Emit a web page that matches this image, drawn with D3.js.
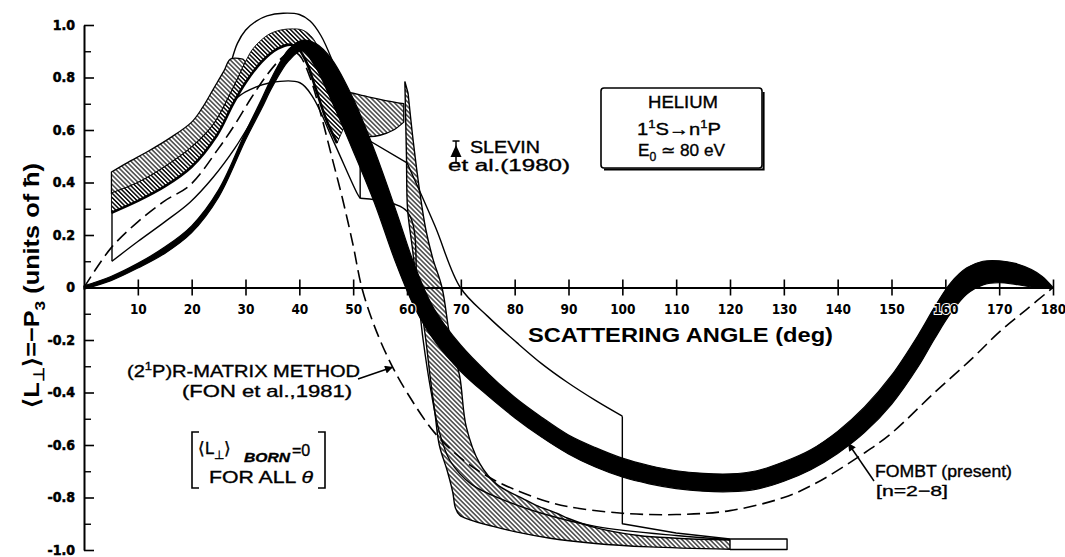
<!DOCTYPE html>
<html>
<head>
<meta charset="utf-8">
<script src="https://cdn.jsdelivr.net/npm/d3@7"></script>
<style>
  body { margin: 0; background: #fff; }
  svg { display: block; }
  text { font-family: "Liberation Sans", Arial, sans-serif; fill: #000; }
</style>
</head>
<body>
<div id="chart"></div>
<script>
// ---- data: [scattering angle (deg), <L_perp> (units of hbar)] ----
const xTicks = [10, 20, 30, 40, 50, 60, 70, 80, 90, 100, 110, 120, 130, 140, 150, 160, 170, 180];
const xTickLabels = ["10", "20", "30", "40", "50", "60", "70", "80", "90", "100", "110", "120", "130", "140", "150", "160", "170", "180"];
const yTicks = [1.0, 0.8, 0.6, 0.4, 0.2, 0, -0.2, -0.4, -0.6, -0.8, -1.0];
const yTickLabels = ["1.0", "0.8", "0.6", "0.4", "0.2", "0", "-0.2", "-0.4", "-0.6", "-0.8", "-1.0"];
const yMinorTicks = [0.9, 0.7, 0.5, 0.3, 0.1, -0.1, -0.3, -0.5, -0.7, -0.9];

// FOMBT (present), n = 2-8 : black band, upper and lower edge
const fombtUpper = [[0, 0.006], [5, 0.042], [10, 0.092], [15, 0.154], [20, 0.235], [25, 0.372], [30, 0.592],
  [33, 0.718], [35, 0.805], [38, 0.907], [40.5, 0.942], [43, 0.93], [46, 0.87], [50, 0.72], [54, 0.52],
  [58, 0.29], [61.5, 0.08], [65, -0.08], [70, -0.22], [75, -0.326], [80, -0.418], [85, -0.494],
  [90, -0.562], [95, -0.61], [100, -0.65], [105, -0.678], [110, -0.698], [115, -0.708], [120, -0.71],
  [125, -0.698], [130, -0.664], [135, -0.618], [140, -0.548], [145, -0.455], [150, -0.335], [155, -0.18],
  [158, -0.075], [161, 0.018], [164, 0.075], [167, 0.1], [170, 0.102], [173, 0.092], [176, 0.068],
  [178, 0.042], [180, 0]];
const fombtLower = [[0, -0.006], [5, 0.026], [10, 0.074], [15, 0.13], [20, 0.209], [25, 0.344], [30, 0.562],
  [33, 0.682], [35, 0.765], [38, 0.863], [40.5, 0.902], [43, 0.84], [46, 0.71], [50, 0.52], [54, 0.32],
  [58, 0.09], [61.5, -0.08], [65, -0.2], [70, -0.32], [75, -0.412], [80, -0.496], [85, -0.57],
  [90, -0.634], [95, -0.684], [100, -0.722], [105, -0.748], [110, -0.766], [115, -0.776], [120, -0.778],
  [125, -0.768], [130, -0.738], [135, -0.694], [140, -0.632], [145, -0.552], [150, -0.445], [155, -0.3],
  [158, -0.195], [161, -0.098], [164, -0.025], [167, 0.01], [170, 0.018], [173, 0.012], [176, 0.002],
  [178, -0.002], [180, 0]];

// (2'P) R-matrix method (Fon et al., 1981) : dashed
const rMatrix = [[0, 0], [5, 0.15], [10, 0.25], [15, 0.33], [19.7, 0.39], [25, 0.53], [28, 0.62], [31, 0.72],
  [34, 0.81], [36.5, 0.87], [38.5, 0.9], [40, 0.885], [42, 0.8], [44, 0.66], [46, 0.5], [48, 0.34], [50, 0.16],
  [51.6, 0], [54, -0.15], [57, -0.29], [60, -0.4], [65, -0.55], [70, -0.65], [75, -0.72], [80, -0.77],
  [86, -0.815], [90, -0.835], [100, -0.86], [110, -0.865], [120, -0.85], [130, -0.8], [136, -0.745],
  [145, -0.63], [150, -0.555], [158, -0.4], [165, -0.27], [170, -0.17], [175, -0.085], [180, 0]];

// hatched bands
const outerBandTop = [[5.1, 0.44], [8, 0.475], [12, 0.52], [16, 0.57], [20, 0.63], [22, 0.685], [24, 0.755],
  [26, 0.825], [27.2, 0.87], [29.5, 0.87]];
const innerBandTop = [[5.1, 0.36], [10, 0.4], [15, 0.46], [20, 0.535], [24, 0.62], [27.7, 0.76], [30, 0.86],
  [31.4, 0.91], [34, 0.96], [36, 0.978], [38.3, 0.985], [40.7, 0.98], [42.5, 0.95], [44, 0.89], [46, 0.78],
  [47.5, 0.7], [48.5, 0.62]];
const innerBandBottom = [[5.1, 0.285], [10, 0.33], [15, 0.385], [20, 0.46], [24.7, 0.58], [27.7, 0.7], [30, 0.78],
  [33, 0.86], [36, 0.91], [38.5, 0.925], [40, 0.905], [41.5, 0.85], [43, 0.76], [45, 0.64], [47, 0.55]];
const lensTop = [[48, 0.75], [50, 0.74], [53, 0.725], [56, 0.712], [59.4, 0.7]];
const lensBottom = [[59.4, 0.63], [57.5, 0.6], [55, 0.58], [53, 0.575], [51, 0.585], [49.5, 0.61], [48, 0.66]];
const spikeLeft = [[59.6, 0.785], [59.9, 0.5], [60.1, 0.3], [61, 0.15], [61.9, 0], [62.8, -0.1], [63.5, -0.2],
  [64.3, -0.34], [65.2, -0.48], [66, -0.6], [67.5, -0.7], [68.5, -0.78], [69, -0.84], [69.8, -0.868],
  [71.7, -0.885], [76, -0.91], [80, -0.93], [86.6, -0.955], [95, -0.975], [105, -0.988], [120, -0.997]];
const spikeRight = [[60.2, 0.74], [61.2, 0.55], [62.4, 0.36], [63.5, 0.22], [64.8, 0.11], [66.5, 0],
  [68, -0.19], [69.8, -0.34], [71, -0.53], [73.5, -0.67], [76.7, -0.75], [81.6, -0.805], [84, -0.83],
  [87.8, -0.86], [90, -0.88], [95, -0.915], [103, -0.945], [110, -0.955], [120, -0.962]];

// thin solid curves
const upperEnvelope = [[27.5, 0.87], [28.5, 0.93], [30, 0.98], [32, 1.015], [34, 1.035], [37, 1.045], [40, 1.04],
  [42, 1.015], [44, 0.96], [46, 0.87], [48, 0.75]];
const lowerStem = [[5.2, 0.285], [5.2, 0.1]];
const lowerCurve = [[5.2, 0.1], [10, 0.175], [15, 0.25], [19.7, 0.325], [24, 0.42], [28, 0.53], [31, 0.63],
  [34, 0.74], [36.5, 0.83], [38.5, 0.89]];
const shoulderCurve = [[27.7, 0.71], [30, 0.745], [34.6, 0.78], [40.1, 0.78], [42.5, 0.725], [46.5, 0.55],
  [50.7, 0.36], [51.3, 0.34]];
const shoulderTail = [[51.3, 0.34], [60, 0.29], [61.9, 0], [63, -0.2], [64.5, -0.4], [66, -0.55], [68, -0.66],
  [72, -0.75], [78, -0.81], [85, -0.86], [95, -0.91], [110, -0.945], [120, -0.96]];
const stepRiser = [[51.3, 0.34], [51.3, 0.58], [60, 0.475]];
const stepCurve = [[60, 0.475], [65.2, 0.234], [69.9, 0], [75, -0.11], [80.4, -0.21], [85, -0.29], [89.7, -0.36],
  [95, -0.43], [100, -0.49]];
const stepDrop = [[100, -0.49], [100, -0.9], [110, -0.935], [120, -0.958], [130.6, -0.958], [130.6, -0.998],
  [120, -0.998]];

// ---- drawing ----
const W = 1065, H = 557;
const x = d3.scaleLinear().domain([0, 180]).range([84, 1053]);
const y = d3.scaleLinear().domain([-1, 1]).range([550, 25]);

const svg = d3.select("#chart").append("svg")
  .attr("width", W).attr("height", H)
  .style("background", "#fff");

const defs = svg.append("defs");
function hatch(id, period, width) {
  const p = defs.append("pattern").attr("id", id)
    .attr("patternUnits", "userSpaceOnUse")
    .attr("width", period).attr("height", period)
    .attr("patternTransform", "rotate(45)");
  p.append("rect").attr("width", period).attr("height", period).attr("fill", "#fff");
  p.append("line").attr("x1", 0).attr("x2", period).attr("y1", period / 2).attr("y2", period / 2)
    .attr("stroke", "#000").attr("stroke-width", width);
}
hatch("hatch", 3.3, 1.1);
hatch("hatchDense", 3.1, 1.45);

defs.append("marker").attr("id", "arrow")
  .attr("viewBox", "0 0 10 10").attr("refX", 10).attr("refY", 5)
  .attr("markerUnits", "userSpaceOnUse").attr("markerWidth", 11).attr("markerHeight", 8)
  .attr("orient", "auto")
  .append("path").attr("d", "M0,0L10,5L0,10z").attr("fill", "#000");

const smooth = d3.line().x(d => x(d[0])).y(d => y(d[1])).curve(d3.curveCatmullRom.alpha(0.5));
const straight = d3.line().x(d => x(d[0])).y(d => y(d[1]));
const band = (a, b) => smooth(a) + smooth(b.slice().reverse()).replace(/^M/, "L") + "Z";

const marks = svg.append("g");

// hatched regions
marks.append("path")
  .attr("d", band(outerBandTop, innerBandTop.filter(d => d[0] <= 30)))
  .attr("fill", "url(#hatch)").attr("stroke", "#000").attr("stroke-width", 1.3);
marks.append("path")
  .attr("d", band(innerBandTop, innerBandBottom))
  .attr("fill", "url(#hatchDense)").attr("stroke", "#000").attr("stroke-width", 0.9);
marks.append("path")
  .attr("d", smooth(innerBandBottom))
  .attr("fill", "none").attr("stroke", "#000").attr("stroke-width", 2.6);
marks.append("path")
  .attr("d", band(lensTop, lensBottom.slice().reverse()))
  .attr("fill", "url(#hatch)").attr("stroke", "#000").attr("stroke-width", 1.3);
marks.append("path")
  .attr("d", band(spikeLeft, spikeRight))
  .attr("fill", "url(#hatch)").attr("stroke", "#000").attr("stroke-width", 1.4);

// thin solid curves
const thin = [
  [upperEnvelope, smooth], [lowerStem, straight], [lowerCurve, smooth], [shoulderCurve, smooth],
  [shoulderTail, smooth], [stepRiser, straight], [stepCurve, smooth], [stepDrop, straight]
];
thin.forEach(([data, gen]) => {
  marks.append("path").attr("d", gen(data))
    .attr("fill", "none").attr("stroke", "#000").attr("stroke-width", 1.4)
    .attr("stroke-linejoin", "round");
});

// R-matrix dashed
marks.append("path").attr("d", smooth(rMatrix))
  .attr("fill", "none").attr("stroke", "#000").attr("stroke-width", 1.6)
  .attr("stroke-dasharray", "13,6");

// FOMBT band
marks.append("path").attr("d", band(fombtUpper, fombtLower))
  .attr("fill", "#000").attr("stroke", "#000").attr("stroke-width", 1.2).attr("stroke-linejoin", "round");

// ---- axes ----
const tickFont = '"Liberation Sans Narrow", "DejaVu Sans Condensed", "Liberation Sans", sans-serif';

const gx = svg.append("g").attr("transform", `translate(0,${y(0)})`)
  .call(d3.axisBottom(x).tickValues(xTicks).tickSize(8).tickSizeOuter(0).tickPadding(9)
    .tickFormat((d, i) => xTickLabels[i]));
gx.select(".domain").attr("stroke-width", 2);
gx.selectAll(".tick line").attr("y1", -8).attr("stroke-width", 1.6);
gx.selectAll(".tick text")
  .style("font-family", tickFont).style("font-weight", "bold").style("font-size", "13.5px")
  .attr("stroke", "#fff").attr("stroke-width", 2).attr("paint-order", "stroke");

const gy = svg.append("g").attr("transform", `translate(${x(0)},0)`)
  .call(d3.axisLeft(y).tickValues(yTicks).tickSize(-10).tickSizeOuter(0).tickPadding(9)
    .tickFormat((d, i) => yTickLabels[i]));
gy.select(".domain").attr("stroke-width", 2);
gy.selectAll(".tick line").attr("stroke-width", 1.6);
gy.selectAll(".tick text")
  .style("font-family", tickFont).style("font-weight", "bold").style("font-size", "14px")
  .attr("stroke", "#000").attr("stroke-width", 0.5);

svg.append("g").attr("transform", `translate(${x(0)},0)`)
  .call(d3.axisLeft(y).tickValues(yMinorTicks).tickSize(-7).tickSizeOuter(0).tickFormat(""))
  .call(g => g.select(".domain").remove())
  .selectAll(".tick line").attr("stroke-width", 1.4);

// axis titles
svg.append("text").attr("x", 528).attr("y", 342)
  .attr("textLength", 305).attr("lengthAdjust", "spacingAndGlyphs")
  .style("font-weight", "bold").style("font-size", "21px")
  .text("SCATTERING ANGLE (deg)");

function rich(sel, parts) {
  parts.forEach(([s, dy, size, style]) => {
    const t = sel.append("tspan").text(s);
    if (dy) t.attr("dy", dy);
    if (size) t.style("font-size", size);
    if (style) t.style("font-style", style);
  });
  return sel;
}

const ylab = svg.append("text")
  .attr("transform", "translate(39,408) rotate(-90)")
  .attr("textLength", 245).attr("lengthAdjust", "spacingAndGlyphs")
  .style("font-weight", "bold").style("font-size", "22px");
rich(ylab, [["\u27E8L"], ["\u22A5", 5, "15px"], ["\u27E9", -5], ["=\u2212P"], ["3", 6, "15px"],
  [" (units of \u0127)", -6]]);

// ---- annotations ----
// Helium box first so its text sits on top
svg.append("rect").attr("x", 601).attr("y", 88).attr("width", 161).attr("height", 80).attr("rx", 3)
  .attr("fill", "#fff").attr("stroke", "#000").attr("stroke-width", 1.6);
svg.append("path").attr("d", "M604,169.6H763.6V92")
  .attr("fill", "none").attr("stroke", "#000").attr("stroke-width", 2);

const ann = svg.append("g").attr("stroke", "#000").attr("stroke-width", 0.35);

ann.append("text").attr("x", 648).attr("y", 108).style("font-size", "17px")
  .attr("textLength", 70).attr("lengthAdjust", "spacingAndGlyphs").text("HELIUM");
const tr = ann.append("text").attr("x", 637).attr("y", 135).style("font-size", "17px")
  .attr("textLength", 84).attr("lengthAdjust", "spacingAndGlyphs");
rich(tr, [["1"], ["1", -7, "11px"], ["S", 7], ["\u2192", 0, "17px"], ["n"], ["1", -7, "11px"], ["P", 7]]);
const e0 = ann.append("text").attr("x", 638).attr("y", 156).style("font-size", "17px")
  .attr("textLength", 87).attr("lengthAdjust", "spacingAndGlyphs");
rich(e0, [["E"], ["0", 5, "12px"], [" \u2243 80 eV", -5]]);

const rm1 = ann.append("text").attr("x", 127).attr("y", 377).style("font-size", "17px")
  .attr("textLength", 233).attr("lengthAdjust", "spacingAndGlyphs");
rich(rm1, [["(2"], ["1", -7, "11px"], ["P)R-MATRIX METHOD", 7]]);
ann.append("text").attr("x", 182).attr("y", 397).style("font-size", "17px")
  .attr("textLength", 170).attr("lengthAdjust", "spacingAndGlyphs")
  .text("(FON et al.,1981)");
svg.append("line").attr("x1", 358).attr("y1", 379).attr("x2", 393).attr("y2", 367)
  .attr("stroke", "#000").attr("stroke-width", 1.5).attr("marker-end", "url(#arrow)");

// Born bracket
svg.append("path").attr("d", "M199,432H192V488H199M318,432H325V488H318")
  .attr("fill", "none").attr("stroke", "#000").attr("stroke-width", 1.6);
const born = ann.append("text").attr("x", 198).attr("y", 454).style("font-size", "17px");
rich(born, [["\u27E8L"], ["\u22A5", 5, "12px"], ["\u27E9", -5]]);
ann.append("text").attr("x", 244).attr("y", 462).style("font-size", "12px")
  .style("font-weight", "bold").style("font-style", "italic")
  .attr("textLength", 46).attr("lengthAdjust", "spacingAndGlyphs").text("BORN");
ann.append("text").attr("x", 292).attr("y", 456).style("font-size", "16px").text("=0");
const forAll = ann.append("text").attr("x", 209).attr("y", 483).style("font-size", "17px")
  .attr("textLength", 104).attr("lengthAdjust", "spacingAndGlyphs");
rich(forAll, [["FOR ALL "], ["\u03B8", 0, null, "italic"]]);

// FOMBT label
ann.append("text").attr("x", 875).attr("y", 477).style("font-size", "16px")
  .attr("textLength", 137).attr("lengthAdjust", "spacingAndGlyphs").text("FOMBT (present)");
ann.append("text").attr("x", 876).attr("y", 496).style("font-size", "15px")
  .attr("textLength", 72).attr("lengthAdjust", "spacingAndGlyphs").text("[n=2\u22128]");
svg.append("line").attr("x1", 874).attr("y1", 481).attr("x2", 848).attr("y2", 443)
  .attr("stroke", "#000").attr("stroke-width", 1.5).attr("marker-end", "url(#arrow)");

// Slevin legend marker
svg.append("path").attr("d", "M456,141V163M452.5,141H459.5M452.5,163H459.5")
  .attr("stroke", "#000").attr("stroke-width", 1.5).attr("fill", "none");
svg.append("path").attr("d", "M456,145L450.5,157H461.5Z").attr("fill", "#000");
ann.append("text").attr("x", 470).attr("y", 153).style("font-size", "16px")
  .attr("textLength", 70).attr("lengthAdjust", "spacingAndGlyphs").text("SLEVIN");
ann.append("text").attr("x", 448).attr("y", 171).style("font-size", "16px")
  .attr("textLength", 122).attr("lengthAdjust", "spacingAndGlyphs").text("et al.(1980)");
</script>
</body>
</html>
